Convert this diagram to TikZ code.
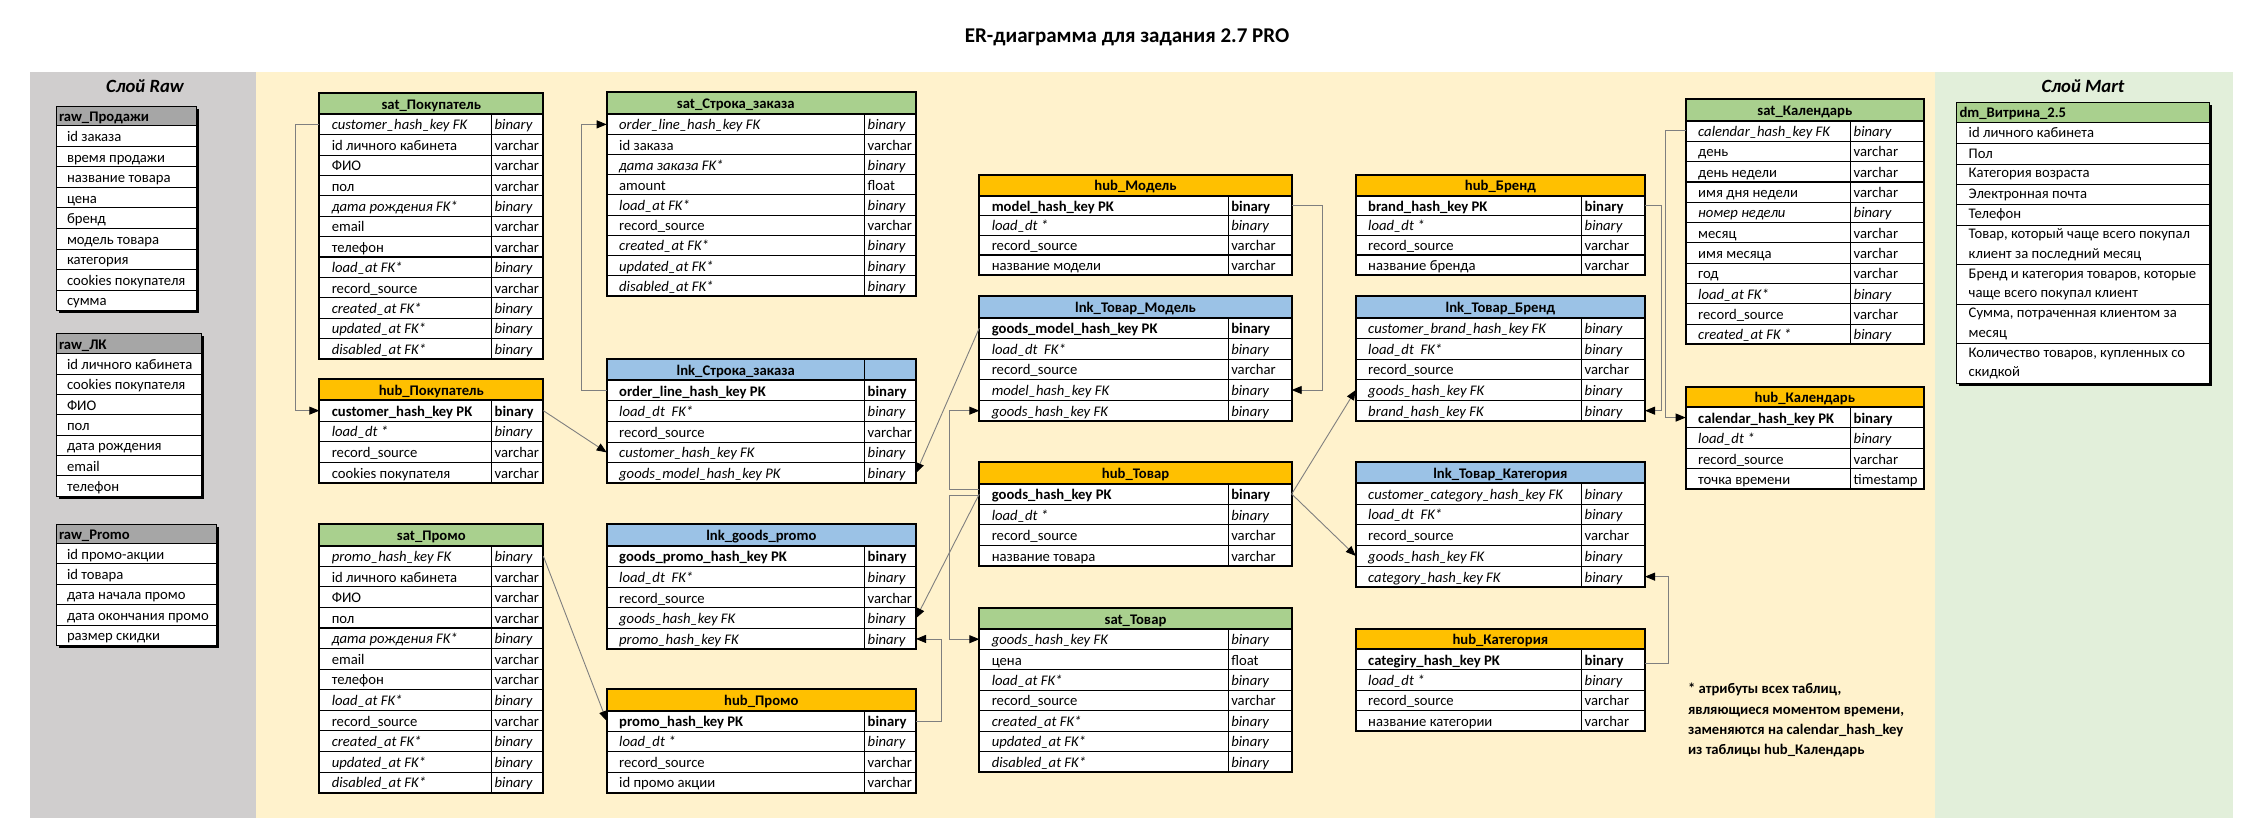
\documentclass[tikz,border=0pt]{standalone}
\usepackage{fontspec}
\setmainfont{Carlito}
\usetikzlibrary{arrows.meta}
\definecolor{bgyellow}{HTML}{FFF2CC}
\definecolor{bggray}{HTML}{D0CECE}
\definecolor{bggreen}{HTML}{E2EFDA}
\definecolor{satc}{HTML}{A9D08E}
\definecolor{hubc}{HTML}{FFC000}
\definecolor{lnkc}{HTML}{9BC2E6}
\definecolor{rawc}{HTML}{A6A6A6}
\definecolor{connc}{HTML}{7F7F7F}
\newcommand\cellfont{\fontsize{14.67}{17.6}\selectfont}
\tikzset{
  rowbox/.style={inner sep=0pt, outer sep=0pt, draw=none},
  celltext/.style={anchor=base west, inner sep=0pt, outer sep=0pt},
  rnm/.style={font=\cellfont},
  rit/.style={font=\cellfont\itshape},
  rbf/.style={font=\cellfont\bfseries},
  titlecell/.style={anchor=base, inner sep=0pt, font=\cellfont\bfseries},
  innerline/.style={draw=black, line width=0.9pt},
  outerline/.style={draw=black, line width=1.8pt},
  conn/.style={draw=connc, line width=0.9pt},
  arr/.style={conn, -{Triangle[length=10pt,width=8pt,color=black]}}
}
% name x1 xs x2 ytop yhb rh n fill
\newcommand\tabstart[9]{%
  \gdef\tN{#1}\gdef\tX{#2}\gdef\tS{#3}\gdef\tR{#4}\gdef\tT{#5}\gdef\tH{#6}\gdef\tRH{#7}%
  \pgfmathsetmacro\tB{#6+#8*#7}\xdef\tB{\tB}%
  \fill[white] (#2,#6) rectangle (#4,\tB);
  \fill[#9] (#2,#5) rectangle (#4,#6);
}
\newcommand\tabtitle[1]{\node[titlecell] (\tN-h) at ({(\tX+\tR)/2},{(\tT+\tH)/2+5.5}) {#1};}
\newcommand\tabtitleL[1]{\node[titlecell] (\tN-h) at ({(\tX+\tS)/2},{(\tT+\tH)/2+5.5}) {#1};}
\newcommand\erow[4]{%
  \pgfmathsetmacro\eyA{\tH+(#1-1)*\tRH}%
  \pgfmathsetmacro\eyM{\eyA+\tRH/2}%
  \pgfmathsetmacro\eyB{\eyA+\tRH}%
  \pgfmathsetmacro\tW{\tR-\tX}%
  \node[rowbox, minimum width=\tW, minimum height=\tRH, anchor=north west] (\tN-#1) at (\tX,\eyA) {};
  \draw[innerline] (\tX,\eyB) -- (\tR,\eyB);
  \node[celltext,#2] (\tN-#1-a) at (\tX+12.5,\eyM+5.5) {#3};
  \node[celltext,#2] (\tN-#1-b) at (\tS+3,\eyM+5.5) {#4};
}
\newcommand\thk[1]{\pgfmathsetmacro\eyB{\tH+#1*\tRH}\draw[line width=1.8pt] (\tX,\eyB) -- (\tR,\eyB);}
\newcommand\tabhsep{\draw[innerline] (\tS,\tT) -- (\tS,\tH);}
\newcommand\tabend{%
  \draw[innerline] (\tS,\tH) -- (\tS,\tB);
  \draw[outerline] (\tX,\tH) -- (\tR,\tH);
  \draw[outerline] (\tX,\tT) rectangle (\tR,\tB);
}
% name x1 x2 ytop yhb rh n title
\newcommand\rawstart[8]{%
  \gdef\tN{#1}\gdef\tX{#2}\gdef\tR{#3}\gdef\tT{#4}\gdef\tH{#5}\gdef\tRH{#6}%
  \pgfmathsetmacro\tB{#5+#7*#6}\xdef\tB{\tB}%
  \fill[black] (#2+2.5,#4+2.5) rectangle (#3+2.5,\tB+2.5);
  \fill[white] (#2,#5) rectangle (#3,\tB);
  \fill[rawc] (#2,#4) rectangle (#3,#5);
  \node[celltext,rbf] (#1-h) at (#2+3,{(#4+#5)/2+5.5}) {#8};
}
\newcommand\rrow[2]{%
  \pgfmathsetmacro\eyA{\tH+(#1-1)*\tRH}%
  \pgfmathsetmacro\eyM{\eyA+\tRH/2}%
  \pgfmathsetmacro\eyB{\eyA+\tRH}%
  \pgfmathsetmacro\tW{\tR-\tX}%
  \node[rowbox, minimum width=\tW, minimum height=\tRH, anchor=north west] (\tN-#1) at (\tX,\eyA) {};
  \draw[innerline] (\tX,\eyB) -- (\tR,\eyB);
  \node[celltext,rnm] (\tN-#1-a) at (\tX+11,\eyM+5.5) {#2};
}
\newcommand\rawend{\draw[innerline] (\tX,\tH) -- (\tR,\tH); \draw[line width=1pt] (\tX,\tT) rectangle (\tR,\tB);}
\newcommand\mrow[4]{%
  \pgfmathsetmacro\tW{2209-1956.7}\pgfmathsetmacro\tHt{#3-#2}%
  \node[rowbox, minimum width=\tW, minimum height=\tHt, anchor=north west] (mart-#1) at (1956.7,#2) {};
  \draw[innerline] (1956.7,#3) -- (2209,#3);
  \node[inner sep=0pt, anchor=west, align=left, font=\fontsize{14.67}{19.5}\selectfont] (mart-#1-a) at (1968.5,{(#2+#3)/2}) {#4};
}
\begin{document}
\begin{tikzpicture}[x=1pt,y=-1pt]
\useasboundingbox (0,0) rectangle (2253,838);
\fill[white] (0,0) rectangle (2253,838);
\fill[bggray] (30,72) rectangle (256,818);
\fill[bgyellow] (256,72) rectangle (1935,818);
\fill[bggreen] (1935,72) rectangle (2233,818);
\node[font=\fontsize{21}{25}\selectfont\bfseries, inner sep=0pt, anchor=base] (title) at (1127,42) {ER-диаграмма для задания 2.7 PRO};
\node[font=\fontsize{18.7}{22}\selectfont\bfseries\itshape, inner sep=0pt, anchor=base] (rawlabel) at (145,92.5) {Слой Raw};
\node[font=\fontsize{18.7}{22}\selectfont\bfseries\itshape, inner sep=0pt, anchor=base] (martlabel) at (2083,92) {Слой Mart};

% ---------- Raw ----------
\rawstart{rawsales}{56}{196}{106.7}{125.8}{20.53}{9}{raw\_Продажи}
\rrow{1}{id заказа}
\rrow{2}{время продажи}
\rrow{3}{название товара}
\rrow{4}{цена}
\rrow{5}{бренд}
\rrow{6}{модель товара}
\rrow{7}{категория}
\rrow{8}{cookies покупателя}
\rrow{9}{сумма}
\rawend

\rawstart{rawlk}{56}{201}{333.2}{353.9}{20.33}{7}{raw\_ЛК}
\rrow{1}{id личного кабинета}
\rrow{2}{cookies покупателя}
\rrow{3}{ФИО}
\rrow{4}{пол}
\rrow{5}{дата рождения}
\rrow{6}{email}
\rrow{7}{телефон}
\rawend

\rawstart{rawpromo}{56}{216}{524.2}{543.3}{20.44}{5}{raw\_Promo}
\rrow{1}{id промо-акции}
\rrow{2}{id товара}
\rrow{3}{дата начала промо}
\rrow{4}{дата окончания промо}
\rrow{5}{размер скидки}
\rawend

% ---------- Mart ----------
\fill[black] (1959.2,104.8) rectangle (2211.5,385.8);
\fill[white] (1956.7,122.3) rectangle (2209,383.3);
\fill[satc] (1956.7,102.3) rectangle (2209,122.3);
\node[celltext,rbf] (mart-h) at (1959.5,117.3) {dm\_Витрина\_2.5};
\mrow{1}{122.3}{143.3}{id личного кабинета}
\mrow{2}{143.3}{164}{Пол}
\mrow{3}{164}{184.3}{Категория возраста}
\mrow{4}{184.3}{204.7}{Электронная почта}
\mrow{5}{204.7}{225}{Телефон}
\mrow{6}{225}{264.3}{Товар, который чаще всего покупал\\клиент за последний месяц}
\mrow{7}{264.3}{304.3}{Бренд и категория товаров, которые\\чаще всего покупал клиент}
\mrow{8}{304.3}{343.7}{Сумма, потраченная клиентом за\\месяц}
\mrow{9}{343.7}{383.3}{Количество товаров, купленных со\\скидкой}
\draw[innerline] (1956.7,122.3) -- (2209,122.3);
\draw[line width=1pt] (1956.7,102.3) rectangle (2209,383.3);

% ---------- sat_Покупатель ----------
\tabstart{scust}{319.3}{491.7}{543.3}{93.3}{114.3}{20.39}{12}{satc}
\tabtitle{sat\_Покупатель}
\erow{1}{rit}{customer\_hash\_key FK}{binary}
\erow{2}{rnm}{id личного кабинета}{varchar}
\erow{3}{rnm}{ФИО}{varchar}
\erow{4}{rnm}{пол}{varchar}
\erow{5}{rit}{дата рождения FK*}{binary}
\erow{6}{rnm}{email}{varchar}
\erow{7}{rnm}{телефон}{varchar}
\erow{8}{rit}{load\_at FK*}{binary}
\erow{9}{rnm}{record\_source}{varchar}
\erow{10}{rit}{created\_at FK*}{binary}
\erow{11}{rit}{updated\_at FK*}{binary}
\erow{12}{rit}{disabled\_at FK*}{binary}
\thk{7}
\tabend

% ---------- hub_Покупатель ----------
\tabstart{hcust}{319.3}{491.7}{543.3}{379.3}{400.3}{20.67}{4}{hubc}
\tabtitle{hub\_Покупатель}
\erow{1}{rbf}{customer\_hash\_key PK}{binary}
\erow{2}{rit}{load\_dt *}{binary}
\erow{3}{rnm}{record\_source}{varchar}
\erow{4}{rnm}{cookies покупателя}{varchar}
\tabend

% ---------- sat_Промо ----------
\tabstart{spromo}{319.3}{491.7}{543.3}{524}{545.7}{20.58}{12}{satc}
\tabtitle{sat\_Промо}
\erow{1}{rit}{promo\_hash\_key FK}{binary}
\erow{2}{rnm}{id личного кабинета}{varchar}
\erow{3}{rnm}{ФИО}{varchar}
\erow{4}{rnm}{пол}{varchar}
\erow{5}{rit}{дата рождения FK*}{binary}
\erow{6}{rnm}{email}{varchar}
\erow{7}{rnm}{телефон}{varchar}
\erow{8}{rit}{load\_at FK*}{binary}
\erow{9}{rnm}{record\_source}{varchar}
\erow{10}{rit}{created\_at FK*}{binary}
\erow{11}{rit}{updated\_at FK*}{binary}
\erow{12}{rit}{disabled\_at FK*}{binary}
\thk{4}
\tabend

% ---------- sat_Строка_заказа ----------
\tabstart{sso}{606.7}{864.7}{916}{92.3}{114.3}{20.16}{9}{satc}
\tabtitleL{sat\_Строка\_заказа}
\erow{1}{rit}{order\_line\_hash\_key FK}{binary}
\erow{2}{rnm}{id заказа}{varchar}
\erow{3}{rit}{дата заказа FK*}{binary}
\erow{4}{rnm}{amount}{float}
\erow{5}{rit}{load\_at FK*}{binary}
\erow{6}{rnm}{record\_source}{varchar}
\erow{7}{rit}{created\_at FK*}{binary}
\erow{8}{rit}{updated\_at FK*}{binary}
\erow{9}{rit}{disabled\_at FK*}{binary}
\thk{7}
\tabend

% ---------- lnk_Строка_заказа ----------
\tabstart{lso}{606.7}{864.7}{916}{359}{380.3}{20.6}{5}{lnkc}
\tabtitleL{lnk\_Строка\_заказа}
\tabhsep
\erow{1}{rbf}{order\_line\_hash\_key PK}{binary}
\erow{2}{rit}{load\_dt~~FK*}{binary}
\erow{3}{rnm}{record\_source}{varchar}
\erow{4}{rit}{customer\_hash\_key FK}{binary}
\erow{5}{rit}{goods\_model\_hash\_key PK}{binary}
\tabend

% ---------- lnk_goods_promo ----------
\tabstart{lgp}{606.7}{864.7}{916}{524}{545.7}{20.72}{5}{lnkc}
\tabtitle{lnk\_goods\_promo}
\erow{1}{rbf}{goods\_promo\_hash\_key PK}{binary}
\erow{2}{rit}{load\_dt~~FK*}{binary}
\erow{3}{rnm}{record\_source}{varchar}
\erow{4}{rit}{goods\_hash\_key FK}{binary}
\erow{5}{rit}{promo\_hash\_key FK}{binary}
\thk{4}
\tabend

% ---------- hub_Промо ----------
\tabstart{hpromo}{606.7}{864.7}{916}{689.3}{710.7}{20.5}{4}{hubc}
\tabtitle{hub\_Промо}
\erow{1}{rbf}{promo\_hash\_key PK}{binary}
\erow{2}{rit}{load\_dt *}{binary}
\erow{3}{rnm}{record\_source}{varchar}
\erow{4}{rnm}{id промо акции}{varchar}
\tabend

% ---------- hub_Модель ----------
\tabstart{hmod}{979.3}{1228.3}{1291.7}{175}{195.7}{19.83}{4}{hubc}
\tabtitle{hub\_Модель}
\erow{1}{rbf}{model\_hash\_key PK}{binary}
\erow{2}{rit}{load\_dt *}{binary}
\erow{3}{rnm}{record\_source}{varchar}
\erow{4}{rnm}{название модели}{varchar}
\thk{3}
\tabend

% ---------- lnk_Товар_Модель ----------
\tabstart{ltm}{979.3}{1228.3}{1291.7}{296}{317.7}{20.66}{5}{lnkc}
\tabtitle{lnk\_Товар\_Модель}
\erow{1}{rbf}{goods\_model\_hash\_key PK}{binary}
\erow{2}{rit}{load\_dt~~FK*}{binary}
\erow{3}{rnm}{record\_source}{varchar}
\erow{4}{rit}{model\_hash\_key FK}{binary}
\erow{5}{rit}{goods\_hash\_key FK}{binary}
\tabend

% ---------- hub_Товар ----------
\tabstart{htov}{979.3}{1228.3}{1291.7}{462.3}{483.7}{20.58}{4}{hubc}
\tabtitle{hub\_Товар}
\erow{1}{rbf}{goods\_hash\_key PK}{binary}
\erow{2}{rit}{load\_dt *}{binary}
\erow{3}{rnm}{record\_source}{varchar}
\erow{4}{rnm}{название товара}{varchar}
\tabend

% ---------- sat_Товар ----------
\tabstart{stov}{979.3}{1228.3}{1291.7}{608.3}{629}{20.39}{7}{satc}
\tabtitle{sat\_Товар}
\erow{1}{rit}{goods\_hash\_key FK}{binary}
\erow{2}{rnm}{цена}{float}
\erow{3}{rit}{load\_at FK*}{binary}
\erow{4}{rnm}{record\_source}{varchar}
\erow{5}{rit}{created\_at FK*}{binary}
\erow{6}{rit}{updated\_at FK*}{binary}
\erow{7}{rit}{disabled\_at FK*}{binary}
\tabend

% ---------- hub_Бренд ----------
\tabstart{hbr}{1355.7}{1581.7}{1645}{175}{195.7}{19.83}{4}{hubc}
\tabtitle{hub\_Бренд}
\erow{1}{rbf}{brand\_hash\_key PK}{binary}
\erow{2}{rit}{load\_dt *}{binary}
\erow{3}{rnm}{record\_source}{varchar}
\erow{4}{rnm}{название бренда}{varchar}
\thk{3}
\tabend

% ---------- lnk_Товар_Бренд ----------
\tabstart{ltb}{1355.7}{1581.7}{1645}{296}{317.7}{20.66}{5}{lnkc}
\tabtitle{lnk\_Товар\_Бренд}
\erow{1}{rit}{customer\_brand\_hash\_key FK}{binary}
\erow{2}{rit}{load\_dt~~FK*}{binary}
\erow{3}{rnm}{record\_source}{varchar}
\erow{4}{rit}{goods\_hash\_key FK}{binary}
\erow{5}{rit}{brand\_hash\_key FK}{binary}
\tabend

% ---------- lnk_Товар_Категория ----------
\tabstart{ltk}{1355.7}{1581.7}{1645}{462.3}{483.3}{20.74}{5}{lnkc}
\tabtitle{lnk\_Товар\_Категория}
\erow{1}{rit}{customer\_category\_hash\_key FK}{binary}
\erow{2}{rit}{load\_dt~~FK*}{binary}
\erow{3}{rnm}{record\_source}{varchar}
\erow{4}{rit}{goods\_hash\_key FK}{binary}
\erow{5}{rit}{category\_hash\_key FK}{binary}
\tabend

% ---------- hub_Категория ----------
\tabstart{hkat}{1355.7}{1581.7}{1645}{629}{649.3}{20.43}{4}{hubc}
\tabtitle{hub\_Категория}
\erow{1}{rbf}{categiry\_hash\_key PK}{binary}
\erow{2}{rit}{load\_dt *}{binary}
\erow{3}{rnm}{record\_source}{varchar}
\erow{4}{rnm}{название категории}{varchar}
\tabend

% ---------- sat_Календарь ----------
\tabstart{scal}{1685.7}{1850.7}{1924}{99.3}{120.7}{20.33}{11}{satc}
\tabtitle{sat\_Календарь}
\erow{1}{rit}{calendar\_hash\_key FK}{binary}
\erow{2}{rnm}{день}{varchar}
\erow{3}{rnm}{день недели}{varchar}
\erow{4}{rnm}{имя дня недели}{varchar}
\erow{5}{rit}{номер недели}{binary}
\erow{6}{rnm}{месяц}{varchar}
\erow{7}{rnm}{имя месяца}{varchar}
\erow{8}{rnm}{год}{varchar}
\erow{9}{rit}{load\_at FK*}{binary}
\erow{10}{rnm}{record\_source}{varchar}
\erow{11}{rit}{created\_at FK *}{binary}
\thk{3}
\tabend

% ---------- hub_Календарь ----------
\tabstart{hcal}{1685.7}{1850.7}{1924}{386.7}{407.3}{20.5}{4}{hubc}
\tabtitle{hub\_Календарь}
\erow{1}{rbf}{calendar\_hash\_key PK}{binary}
\erow{2}{rit}{load\_dt *}{binary}
\erow{3}{rnm}{record\_source}{varchar}
\erow{4}{rnm}{точка времени}{timestamp}
\tabend

% ---------- note ----------
\node[celltext,rbf] (note1) at (1688,693.5) {* атрибуты всех таблиц,};
\node[celltext,rbf] (note2) at (1688,714) {являющиеся моментом времени,};
\node[celltext,rbf] (note3) at (1688,734.3) {заменяются на calendar\_hash\_key};
\node[celltext,rbf] (note4) at (1688,754.6) {из таблицы hub\_Календарь};

% ---------- connectors ----------
\draw[arr] (scust-1.west) -- ++(-24,0) |- (hcust-1.west);
\draw[arr] (hcust-1.east) -- (lso-4.west);
\draw[arr] (lso-1.west) -- ++(-25,0) |- (sso-1.west);
\draw[arr] (ltm-1.west) -- (lso-5.east);
\draw[arr] ([yshift=5pt]htov-1.west) -- ++(-30,0) |- (ltm-5.west);
\draw[arr] ([yshift=-1.5pt]htov-1.west) -- ++(-30,0) |- (stov-1.west);
\draw[arr] (htov-1.west) -- (lgp-4.east);
\draw[arr] (hpromo-1.east) -- ++(25.7,0) |- (lgp-5.east);
\draw[arr] (spromo-1.east) -- (hpromo-1.west);
\draw[arr] (hmod-1.east) -- ++(30.6,0) |- (ltm-4.east);
\draw[arr] (htov-1.east) -- (ltb-4.west);
\draw[arr] (htov-1.east) -- (ltk-4.west);
\draw[arr] (hbr-1.east) -- ++(16,0) |- (ltb-5.east);
\draw[arr] (scal-1.west) -- ++(-20.7,0) |- (hcal-1.west);
\draw[arr] ([yshift=-4pt]hkat-1.east) -- ++(23.4,0) |- (ltk-5.east);
\end{tikzpicture}
\end{document}
